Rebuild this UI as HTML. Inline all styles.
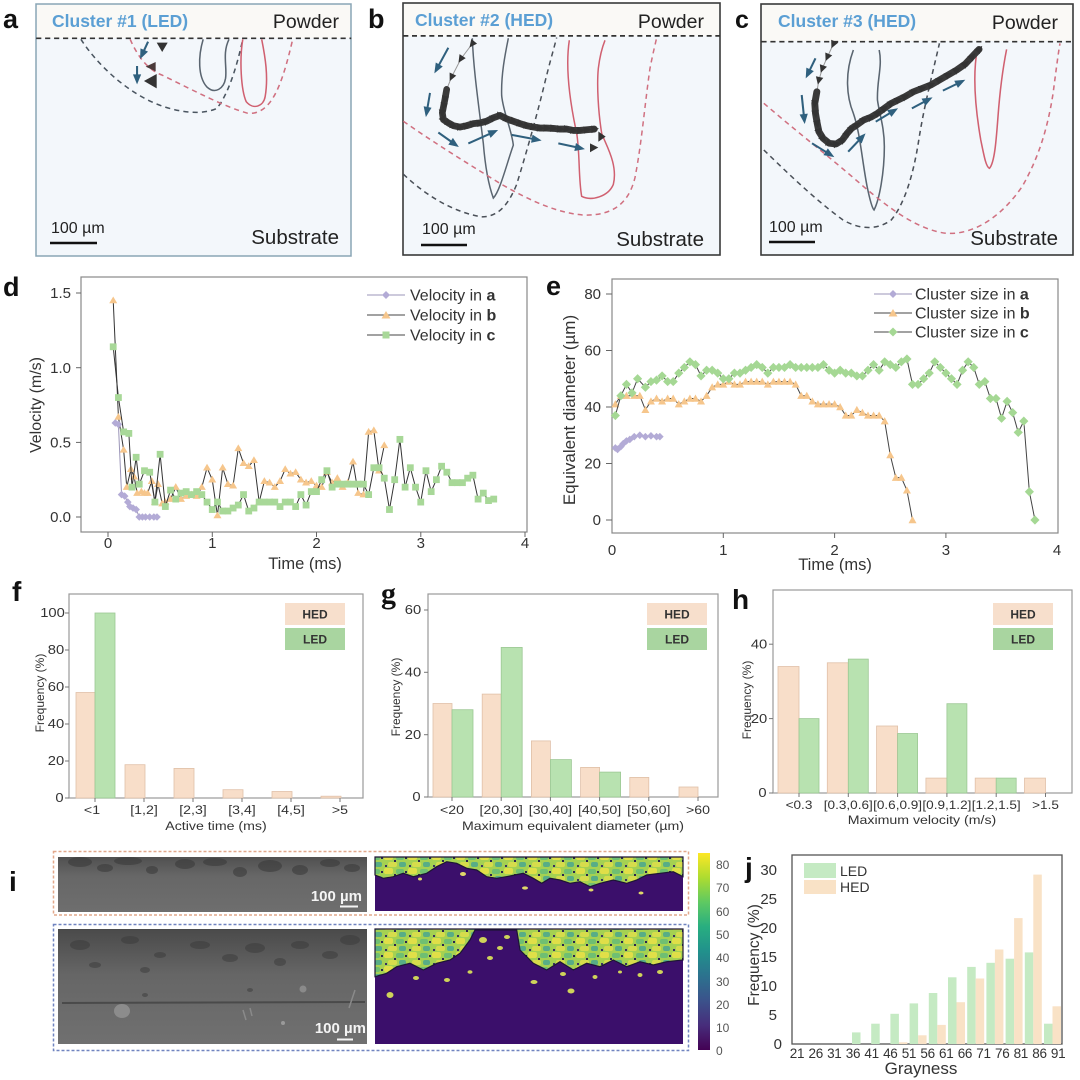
<!DOCTYPE html>
<html><head><meta charset="utf-8"><style>
html,body{margin:0;padding:0;background:#fff;width:1080px;height:1080px;overflow:hidden}
svg{display:block;font-family:"Liberation Sans",Arial,sans-serif}
.sx{transform-box:fill-box;transform-origin:center;transform:scaleX(1.18)}
.ns{vector-effect:non-scaling-stroke}
</style></head><body>
<svg width="1080" height="1080" viewBox="0 0 1080 1080" xmlns="http://www.w3.org/2000/svg">
<defs>
<marker id="arr" markerUnits="userSpaceOnUse" markerWidth="40" markerHeight="40" refX="22" refY="12" orient="auto" overflow="visible"><path d="M0,0 L30,12 L0,24 Z" fill="#2f607e"/></marker>
<marker id="ctri" markerUnits="userSpaceOnUse" markerWidth="30" markerHeight="30" refX="0" refY="0" orient="auto" overflow="visible"><path d="M-9,-11 L14,0 L-9,11 Z" fill="#333"/></marker>
<marker id="mdp" markerUnits="userSpaceOnUse" overflow="visible"><path d="M0,2.55L3.65,0L0,-2.55L-3.65,0Z" fill="#b3abd6"/></marker>
<marker id="mdo" markerUnits="userSpaceOnUse" overflow="visible"><path d="M0,2.68L3.84,-1.87L-3.84,-1.87Z" fill="#f6c68c"/></marker>
<marker id="mdg" markerUnits="userSpaceOnUse" overflow="visible"><path d="M-3.26,-2.28H3.26V2.28H-3.26Z" fill="#a8d898"/></marker>
<marker id="mep" markerUnits="userSpaceOnUse" overflow="visible"><path d="M0,1.35L3.41,0L0,-1.35L-3.41,0Z" fill="#b3abd6"/></marker>
<marker id="meo" markerUnits="userSpaceOnUse" overflow="visible"><path d="M0,1.416L3.59,-1.13L-3.59,-1.13Z" fill="#f6c68c"/></marker>
<marker id="meg" markerUnits="userSpaceOnUse" overflow="visible"><path d="M0,1.63L4.13,0L0,-1.63L-4.13,0Z" fill="#a5d894"/></marker>
<linearGradient id="cbar" x1="0" y1="1" x2="0" y2="0">
<stop offset="0" stop-color="#440154"/><stop offset="0.125" stop-color="#472d7b"/><stop offset="0.25" stop-color="#3b528b"/><stop offset="0.375" stop-color="#2c728e"/><stop offset="0.5" stop-color="#21918c"/><stop offset="0.625" stop-color="#28ae80"/><stop offset="0.75" stop-color="#5ec962"/><stop offset="0.875" stop-color="#addc30"/><stop offset="1" stop-color="#fde725"/>
</linearGradient>
<linearGradient id="g1" x1="0" y1="0" x2="0" y2="1"><stop offset="0" stop-color="#4a4a4a"/><stop offset="0.4" stop-color="#666"/><stop offset="1" stop-color="#707070"/></linearGradient>
<linearGradient id="g2" x1="0" y1="0" x2="0" y2="1"><stop offset="0" stop-color="#505050"/><stop offset="0.35" stop-color="#676767"/><stop offset="1" stop-color="#6e6e6e"/></linearGradient>
<pattern id="vir" patternUnits="userSpaceOnUse" width="24" height="14">
<rect width="24" height="14" fill="#a5d152"/>
<rect x="0" y="0" width="9" height="6" rx="2" fill="#e0df48"/>
<rect x="12" y="1" width="8" height="5" rx="2" fill="#6fbf72"/>
<rect x="4" y="8" width="9" height="5" rx="2" fill="#d6dc4c"/>
<rect x="15" y="8" width="7" height="5" rx="2" fill="#58ad86"/>
<rect x="10" y="6" width="2" height="2" fill="#2a2450"/>
<rect x="21" y="3" width="2" height="2" fill="#2a2450"/>
<rect x="1" y="11" width="2" height="2" fill="#3a3060"/>
</pattern>
</defs>

<!-- ================= PANEL A ================= -->
<rect x="36" y="4" width="315" height="252" fill="#f3f7fb" stroke="#8aa5b5" stroke-width="1.5"/>
<rect x="37" y="5" width="313" height="33" fill="#faf9f6"/>
<g transform="scale(0.34435,0.33333)" fill="none">
<line x1="105" y1="115" x2="1020" y2="115" stroke="#333" stroke-width="5" stroke-dasharray="15,11"/>
<path d="M235,118 C280,190 360,270 450,310 C520,340 590,345 630,325 C665,280 690,190 705,118" stroke="#4a5560" stroke-width="4.5" stroke-dasharray="15,12"/>
<path d="M378,118 C400,170 430,210 470,225 C560,270 650,320 720,340 C790,345 820,250 850,118" stroke="#d07080" stroke-width="4.5" stroke-dasharray="15,12"/>
<path d="M590,118 C575,170 575,230 600,260 C625,285 650,265 655,235 C660,200 645,160 665,118" stroke="#5a6570" stroke-width="4.5"/>
<path d="M705,118 C695,180 700,270 715,305 C735,330 765,320 770,290 C780,230 770,170 760,118" stroke="#d06070" stroke-width="4.5"/>
<line x1="430" y1="125" x2="410" y2="170" stroke="#2f607e" stroke-width="6" marker-end="url(#arr)"/>
<line x1="398" y1="198" x2="398" y2="245" stroke="#2f607e" stroke-width="6" marker-end="url(#arr)"/>
<polygon points="455,128 487,128 471,156" fill="#333"/>
<polygon points="423,200 452,186 452,214" fill="#4a3a3a"/>
<polygon points="418,243 455,222 455,265" fill="#333"/>
</g>
<text x="52" y="27" font-size="17.5" font-weight="bold" fill="#5b9fd4">Cluster #1 (LED)</text>
<text x="339" y="28" font-size="19.5" fill="#222" text-anchor="end">Powder</text>
<text x="51" y="233" font-size="16" fill="#222">100 µm</text>
<line x1="50" y1="243" x2="97" y2="243" stroke="#111" stroke-width="2.5"/>
<text x="339" y="244" font-size="20.5" fill="#222" text-anchor="end">Substrate</text>
<text x="3" y="28" font-size="27" font-weight="bold" fill="#111">a</text>

<!-- ================= PANEL B ================= -->
<rect x="403" y="3" width="317" height="252" fill="#f3f7fb" stroke="#3a3a3a" stroke-width="1.6"/>
<rect x="404" y="4" width="315" height="32" fill="#faf9f6"/>
<g transform="translate(385,0) scale(0.33333,0.3415)" fill="none">
<line x1="55" y1="105" x2="1005" y2="105" stroke="#333" stroke-width="5" stroke-dasharray="15,11"/>
<path d="M262,112 C265,200 280,300 295,420 C300,480 310,540 325,580 C345,560 365,480 385,425 C380,380 355,330 350,280 C348,220 360,160 370,112" stroke="#5a6570" stroke-width="4.5"/>
<path d="M553,118 C540,200 555,300 575,390 C585,450 580,520 590,575 C620,590 670,575 685,540 C700,480 660,420 650,390 C640,330 635,250 640,200 C645,160 655,130 660,118" stroke="#d06070" stroke-width="4.5"/>
<path d="M55,510 C120,570 200,620 290,635 C340,635 370,600 395,540 C420,460 450,360 480,240 C495,180 510,130 515,110" stroke="#4a5058" stroke-width="4.5" stroke-dasharray="15,12"/>
<path d="M55,355 C150,420 250,480 350,540 C440,590 520,625 600,630 C680,630 730,600 750,520 C770,420 780,300 795,200 C805,150 812,125 815,110" stroke="#d07080" stroke-width="4.5" stroke-dasharray="15,12"/>
<polyline points="262,128 228,172 200,225 185,262" stroke="#999" stroke-width="3" marker-start="url(#ctri)" marker-mid="url(#ctri)"/>
<polyline points="185,262 180,290 176,310 172,330 175,350 190,360 205,368 225,372 245,368 265,362 285,360 305,355 325,345 345,338 365,348 385,355 405,362 425,368 445,372 465,375 485,375 505,376 525,378 545,378 565,382 585,382 605,380 628,378" stroke="#3a3a3a" stroke-width="20" stroke-linejoin="round" stroke-linecap="round" marker-mid="url(#ctri)" marker-end="url(#ctri)"/>
<polygon points="640,385 662,400 640,415" fill="#333"/>
<polygon points="615,420 640,432 615,446" fill="#333"/>
<line x1="190" y1="140" x2="152" y2="208" stroke="#2f607e" stroke-width="6" marker-end="url(#arr)"/>
<line x1="135" y1="272" x2="124" y2="335" stroke="#2f607e" stroke-width="6" marker-end="url(#arr)"/>
<line x1="160" y1="388" x2="215" y2="426" stroke="#2f607e" stroke-width="6" marker-end="url(#arr)"/>
<line x1="250" y1="420" x2="332" y2="384" stroke="#2f607e" stroke-width="6" marker-end="url(#arr)"/>
<line x1="380" y1="395" x2="462" y2="410" stroke="#2f607e" stroke-width="6" marker-end="url(#arr)"/>
<line x1="520" y1="420" x2="592" y2="435" stroke="#2f607e" stroke-width="6" marker-end="url(#arr)"/>
</g>
<text x="415" y="26" font-size="17.5" font-weight="bold" fill="#5b9fd4">Cluster #2 (HED)</text>
<text x="704" y="28" font-size="19.5" fill="#222" text-anchor="end">Powder</text>
<text x="422" y="234" font-size="16" fill="#222">100 µm</text>
<line x1="421" y1="245" x2="467" y2="245" stroke="#111" stroke-width="2.5"/>
<text x="704" y="246" font-size="20.5" fill="#222" text-anchor="end">Substrate</text>
<text x="368" y="28" font-size="27" font-weight="bold" fill="#111">b</text>

<!-- ================= PANEL C ================= -->
<rect x="761" y="4" width="312" height="251" fill="#f3f7fb" stroke="#3a3a3a" stroke-width="1.6"/>
<rect x="762" y="5" width="310" height="36" fill="#faf9f6"/>
<g transform="translate(540,0) scale(0.34435,0.33333)" fill="none">
<line x1="643" y1="125" x2="1550" y2="125" stroke="#333" stroke-width="5" stroke-dasharray="15,11"/>
<path d="M910,150 C885,220 890,290 910,340 C930,400 935,480 950,560 C958,600 965,625 970,630 C985,600 1000,520 1000,440 C1000,380 985,340 980,300 C978,240 995,200 985,150" stroke="#5a6570" stroke-width="4.5"/>
<path d="M1270,148 C1255,230 1265,330 1280,420 C1290,470 1295,500 1305,505 C1320,490 1325,420 1330,350 C1335,280 1345,200 1355,148" stroke="#d06070" stroke-width="4.5"/>
<path d="M650,450 C720,520 800,600 880,660 C930,690 980,690 1020,660 C1060,610 1085,520 1100,420 C1115,320 1140,220 1160,130" stroke="#4a5058" stroke-width="4.5" stroke-dasharray="15,12"/>
<path d="M650,310 C740,390 840,470 940,560 C1020,630 1100,690 1180,700 C1260,705 1340,650 1400,560 C1450,470 1475,380 1490,280 C1500,200 1505,160 1510,130" stroke="#d07080" stroke-width="4.5" stroke-dasharray="15,12"/>
<polyline points="852,132 835,170 820,205 810,240 804,275" stroke="#999" stroke-width="3" marker-start="url(#ctri)" marker-mid="url(#ctri)"/>
<polyline points="804,275 798,310 800,340 805,370 810,395 822,415 840,430 860,432 878,420 892,400 905,385 920,375 940,360 960,352 980,340 1000,325 1020,310 1040,300 1060,290 1085,275 1110,265 1135,255 1160,240 1185,225 1210,210 1235,192 1255,170 1275,148" stroke="#3a3a3a" stroke-width="20" stroke-linejoin="round" stroke-linecap="round" marker-mid="url(#ctri)" marker-end="url(#ctri)"/>
<line x1="800" y1="175" x2="775" y2="228" stroke="#2f607e" stroke-width="6" marker-end="url(#arr)"/>
<line x1="760" y1="285" x2="768" y2="364" stroke="#2f607e" stroke-width="6" marker-end="url(#arr)"/>
<line x1="790" y1="430" x2="848" y2="467" stroke="#2f607e" stroke-width="6" marker-end="url(#arr)"/>
<line x1="895" y1="455" x2="940" y2="406" stroke="#2f607e" stroke-width="6" marker-end="url(#arr)"/>
<line x1="975" y1="365" x2="1033" y2="329" stroke="#2f607e" stroke-width="6" marker-end="url(#arr)"/>
<line x1="1080" y1="325" x2="1133" y2="296" stroke="#2f607e" stroke-width="6" marker-end="url(#arr)"/>
<line x1="1170" y1="272" x2="1228" y2="243" stroke="#2f607e" stroke-width="6" marker-end="url(#arr)"/>
</g>
<text x="778" y="27" font-size="17.5" font-weight="bold" fill="#5b9fd4">Cluster #3 (HED)</text>
<text x="1058" y="29" font-size="19.5" fill="#222" text-anchor="end">Powder</text>
<text x="769" y="232" font-size="16" fill="#222">100 µm</text>
<line x1="769" y1="242" x2="815" y2="242" stroke="#111" stroke-width="2.5"/>
<text x="1058" y="245" font-size="20.5" fill="#222" text-anchor="end">Substrate</text>
<text x="735" y="28" font-size="25" font-weight="bold" fill="#111">c</text>

<!-- ================= PANEL D ================= -->
<rect x="81" y="277" width="446" height="255" fill="#fff" stroke="#888" stroke-width="1.2"/>
<g stroke="#666" stroke-width="1">
<line x1="76" y1="293" x2="81" y2="293"/><line x1="76" y1="367.7" x2="81" y2="367.7"/><line x1="76" y1="442.4" x2="81" y2="442.4"/><line x1="76" y1="517" x2="81" y2="517"/>
<line x1="108" y1="532" x2="108" y2="537"/><line x1="212.3" y1="532" x2="212.3" y2="537"/><line x1="316.5" y1="532" x2="316.5" y2="537"/><line x1="420.8" y1="532" x2="420.8" y2="537"/><line x1="525" y1="532" x2="525" y2="537"/>
</g>
<g font-size="15" fill="#333" text-anchor="end">
<text x="71" y="298">1.5</text><text x="71" y="373">1.0</text><text x="71" y="447.5">0.5</text><text x="71" y="522">0.0</text>
</g>
<g font-size="15" fill="#333" text-anchor="middle">
<text x="108" y="548">0</text><text x="212.3" y="548">1</text><text x="316.5" y="548">2</text><text x="420.8" y="548">3</text><text x="525" y="548">4</text>
</g>
<text x="305" y="569" font-size="16.5" fill="#333" text-anchor="middle">Time (ms)</text>
<text transform="translate(41,405) rotate(-90)" font-size="16" fill="#333" text-anchor="middle">Velocity (m/s)</text>
<text x="3" y="296" font-size="27" font-weight="bold" fill="#111">d</text>
<g transform="translate(108,517) scale(1.0425,-1.493)" fill="none" stroke="#333" stroke-width="1">
<polyline class="ns" points="5,145 10,67 15,45 18,20 22,32 25,27 28,16 32,17 35,16 38,16 42,24 45,10 48,22 52,9 55,10 60,12 65,20 70,12 75,14 80,15 85,14 90,20 95,33 100,25 105,1 110,33 115,22 120,21 125,46 130,36 135,34 140,38 145,10 150,24 155,23 160,20 165,24 170,32 175,29 180,30 185,25 190,23 195,24 200,21 205,20 210,30 215,23 220,26 225,20 230,23 235,37 240,16 245,15 250,57 255,58 260,31 265,48" marker-start="url(#mdo)" marker-mid="url(#mdo)" marker-end="url(#mdo)"/>
<polyline class="ns" points="5,114 10,80 15,57 20,56 23,20 27,40 30,22 35,31 40,30 45,10 50,42 55,7 60,18 65,12 70,16 75,17 80,15 85,17 90,15 95,10 100,5 105,10 110,4 115,4 120,6 125,8 130,15 135,4 140,6 145,10 150,10 155,10 160,10 165,7 170,10 175,10 180,7 185,15 190,8 195,17 200,17 205,25 210,31 215,20 220,22 225,22 230,22 235,22 240,22 245,22 250,15 255,33 260,33 265,26 270,5 275,25 280,52 285,20 290,33 295,20 300,10 305,31 310,17 315,25 320,34 325,30 330,23 335,23 340,23 345,26 350,28 355,12 360,16 365,11 370,12" marker-start="url(#mdg)" marker-mid="url(#mdg)" marker-end="url(#mdg)"/>
<polyline class="ns" stroke="#9b95b8" points="7,63 10,62 13,15 16,14 19,10 21,7 24,6 27,5 30,0 33,0 36,0 40,0 44,0 47,0" marker-start="url(#mdp)" marker-mid="url(#mdp)" marker-end="url(#mdp)"/>
</g>
<g font-size="16" fill="#333">
<line x1="367" y1="295" x2="405" y2="295" stroke="#9b95b8"/><polygon points="386,291 390,295 386,299 382,295" fill="#b3abd6"/>
<text x="410" y="300.5">Velocity in <tspan font-weight="bold">a</tspan></text>
<line x1="367" y1="315" x2="405" y2="315" stroke="#444"/><polygon points="386,311 390.5,318.5 381.5,318.5" fill="#f6c68c"/>
<text x="410" y="320.5">Velocity in <tspan font-weight="bold">b</tspan></text>
<line x1="367" y1="335" x2="405" y2="335" stroke="#444"/><rect x="382.5" y="331.5" width="7" height="7" fill="#a8d898"/>
<text x="410" y="340.5">Velocity in <tspan font-weight="bold">c</tspan></text>
</g>

<!-- ================= PANEL E ================= -->
<rect x="612" y="279" width="446" height="254" fill="#fff" stroke="#888" stroke-width="1.2"/>
<g stroke="#666" stroke-width="1">
<line x1="606" y1="294" x2="612" y2="294"/><line x1="606" y1="350.5" x2="612" y2="350.5"/><line x1="606" y1="407" x2="612" y2="407"/><line x1="606" y1="463.5" x2="612" y2="463.5"/><line x1="606" y1="520" x2="612" y2="520"/>
<line x1="723.3" y1="533" x2="723.3" y2="538"/><line x1="834.6" y1="533" x2="834.6" y2="538"/><line x1="945.9" y1="533" x2="945.9" y2="538"/>
</g>
<g font-size="15" fill="#333" text-anchor="end">
<text x="601" y="299">80</text><text x="601" y="355.5">60</text><text x="601" y="412">40</text><text x="601" y="468.5">20</text><text x="601" y="525">0</text>
</g>
<g font-size="15" fill="#333" text-anchor="middle">
<text x="612" y="555">0</text><text x="723.3" y="555">1</text><text x="834.6" y="555">2</text><text x="945.9" y="555">3</text><text x="1057" y="555">4</text>
</g>
<text x="835" y="570" font-size="16.5" fill="#333" text-anchor="middle">Time (ms)</text>
<text transform="translate(575,410) rotate(-90)" font-size="17" fill="#333" text-anchor="middle">Equivalent diameter (µm)</text>
<text x="546" y="295" font-size="27" font-weight="bold" fill="#111">e</text>
<g transform="translate(612,520) scale(1.113,-2.825)" fill="none" stroke="#444" stroke-width="1">
<polyline class="ns" points="3,41 8,44 13,44 20,44 25,44 30,39 35,42 40,43 45,42 50,43 55,43 60,41 65,42 70,43 75,43 80,42 85,44 90,47 95,48 100,48 105,49 110,48 115,48 120,49 125,49 130,49 135,49 140,48 145,49 150,49 155,49 160,49 165,48 170,44 175,44 180,42 185,41 190,41 195,41 200,41 205,40 210,37 215,37 220,39 225,38 230,37 235,37 240,37 245,35 250,23 255,15 260,15 265,10.5 270,0" marker-start="url(#meo)" marker-mid="url(#meo)" marker-end="url(#meo)"/>
<polyline class="ns" points="3,37 8,44 13,48 18,45 23,50 30,47 35,49 40,49.5 45,51 50,49 55,49 60,52 65,54 70,56 75,55 80,51 85,53 90,53 95,52 100,50 105,50 110,52 115,52 120,53 125,54 130,55 135,54 140,52 145,54 150,54 155,54 160,55 165,54 170,54 175,54 180,54 185,54 190,55 195,53 200,52 205,53 210,52 215,52 220,51 225,51 230,53 235,55 240,53 245,56 250,55 255,54 260,56 265,57 270,48 275,48 280,50 285,52 290,56 295,54 300,52 305,50 310,48 315,53 320,56 325,54 330,48 335,49 340,43 345,43 350,36 355,42 360,38 365,31 370,35 375,10 380,0" marker-start="url(#meg)" marker-mid="url(#meg)" marker-end="url(#meg)"/>
<polyline class="ns" stroke="#9b95b8" points="3,25.5 5,25 8,26 10,27 13,28 16,28.5 20,29.5 25,30 30,29.5 35,29.8 40,29.5 43,29.5" marker-start="url(#mep)" marker-mid="url(#mep)" marker-end="url(#mep)"/>
</g>
<g font-size="16" fill="#333">
<line x1="874" y1="294" x2="912" y2="294" stroke="#9b95b8"/><polygon points="893,290 897,294 893,298 889,294" fill="#b3abd6"/>
<text x="915" y="299.5">Cluster size in <tspan font-weight="bold">a</tspan></text>
<line x1="874" y1="313" x2="912" y2="313" stroke="#444"/><polygon points="893,309 897.5,316.5 888.5,316.5" fill="#f6c68c"/>
<text x="915" y="318.5">Cluster size in <tspan font-weight="bold">b</tspan></text>
<line x1="874" y1="332" x2="912" y2="332" stroke="#444"/><polygon points="893,327.5 897.5,332 893,336.5 888.5,332" fill="#a5d894"/>
<text x="915" y="337.5">Cluster size in <tspan font-weight="bold">c</tspan></text>
</g>

<!-- ================= PANEL F ================= -->
<rect x="69" y="594" width="294" height="204" fill="#fff" stroke="#999" stroke-width="1.2"/>
<g fill="#f8dec9" stroke="#e0c0a8" stroke-width="0.8">
<rect x="76" y="692.5" width="19" height="105.5"/><rect x="125" y="764.7" width="20" height="33.3"/><rect x="174" y="768.4" width="20" height="29.6"/><rect x="223" y="789.7" width="20" height="8.3"/><rect x="272" y="791.5" width="20" height="6.5"/><rect x="321" y="796.2" width="20" height="1.8"/>
</g>
<rect x="95" y="613" width="20" height="185" fill="#b8e2b0" stroke="#9cc894" stroke-width="0.8"/>
<g stroke="#777" stroke-width="1">
<line x1="65" y1="613" x2="69" y2="613"/><line x1="65" y1="650" x2="69" y2="650"/><line x1="65" y1="687" x2="69" y2="687"/><line x1="65" y1="724" x2="69" y2="724"/><line x1="65" y1="761" x2="69" y2="761"/><line x1="65" y1="798" x2="69" y2="798"/>
<line x1="95" y1="798" x2="95" y2="802"/><line x1="144" y1="798" x2="144" y2="802"/><line x1="193" y1="798" x2="193" y2="802"/><line x1="242" y1="798" x2="242" y2="802"/><line x1="291" y1="798" x2="291" y2="802"/><line x1="340" y1="798" x2="340" y2="802"/>
</g>
<g font-size="12.5" fill="#333" text-anchor="end">
<text class="sx" x="63" y="617">100</text><text class="sx" x="63" y="654">80</text><text class="sx" x="63" y="691">60</text><text class="sx" x="63" y="728">40</text><text class="sx" x="63" y="765">20</text><text class="sx" x="63" y="802">0</text>
</g>
<g font-size="12" fill="#333" text-anchor="middle">
<text class="sx" x="92" y="814">&lt;1</text><text class="sx" x="144" y="814">[1,2]</text><text class="sx" x="193" y="814">[2,3]</text><text class="sx" x="242" y="814">[3,4]</text><text class="sx" x="291" y="814">[4,5]</text><text class="sx" x="340" y="814">&gt;5</text>
<text class="sx" x="216" y="830">Active time (ms)</text>
</g>
<text transform="translate(44,693) rotate(-90)" font-size="12" fill="#333" text-anchor="middle">Frequency (%)</text>
<text x="12" y="601" font-size="28" font-weight="bold" fill="#111">f</text>
<rect x="285" y="603" width="60" height="22" fill="#f7dfcc"/><text x="315" y="618.5" font-size="12" font-weight="bold" fill="#333" text-anchor="middle">HED</text>
<rect x="285" y="628" width="60" height="22" fill="#a9d5a0"/><text x="315" y="643.5" font-size="12" font-weight="bold" fill="#333" text-anchor="middle">LED</text>

<!-- ================= PANEL G ================= -->
<rect x="428" y="594" width="290" height="203" fill="#fff" stroke="#999" stroke-width="1.2"/>
<g fill="#f8dec9" stroke="#e0c0a8" stroke-width="0.8">
<rect x="433" y="703.5" width="19" height="93.5"/><rect x="482.2" y="694.1" width="19" height="102.9"/><rect x="531.4" y="740.9" width="19" height="56.1"/><rect x="580.6" y="767.4" width="19" height="29.6"/><rect x="629.8" y="777.4" width="19" height="19.6"/><rect x="679" y="787" width="19" height="10"/>
</g>
<g fill="#b8e2b0" stroke="#9cc894" stroke-width="0.8">
<rect x="452" y="709.7" width="21" height="87.3"/><rect x="501.2" y="647.4" width="21" height="149.6"/><rect x="550.4" y="759.6" width="21" height="37.4"/><rect x="599.6" y="772.1" width="21" height="24.9"/>
</g>
<g stroke="#777" stroke-width="1">
<line x1="424" y1="610" x2="428" y2="610"/><line x1="424" y1="672.3" x2="428" y2="672.3"/><line x1="424" y1="734.7" x2="428" y2="734.7"/><line x1="424" y1="797" x2="428" y2="797"/>
<line x1="452" y1="797" x2="452" y2="801"/><line x1="501.2" y1="797" x2="501.2" y2="801"/><line x1="550.4" y1="797" x2="550.4" y2="801"/><line x1="599.6" y1="797" x2="599.6" y2="801"/><line x1="648.8" y1="797" x2="648.8" y2="801"/><line x1="698" y1="797" x2="698" y2="801"/>
</g>
<g font-size="12.5" fill="#333" text-anchor="end">
<text class="sx" x="420" y="614">60</text><text class="sx" x="420" y="676.5">40</text><text class="sx" x="420" y="739">20</text><text class="sx" x="420" y="801">0</text>
</g>
<g font-size="12" fill="#333" text-anchor="middle">
<text class="sx" x="452" y="814">&lt;20</text><text class="sx" x="501.2" y="814">[20,30]</text><text class="sx" x="550.4" y="814">[30,40]</text><text class="sx" x="599.6" y="814">[40,50]</text><text class="sx" x="648.8" y="814">[50,60]</text><text class="sx" x="698" y="814">&gt;60</text>
<text class="sx" x="573" y="830">Maximum equivalent diameter (µm)</text>
</g>
<text transform="translate(400,697) rotate(-90)" font-size="12" fill="#333" text-anchor="middle">Frequency (%)</text>
<text x="381" y="603" font-size="30" font-weight="bold" fill="#111" font-family="Liberation Serif, serif">g</text>
<rect x="647" y="603" width="60" height="22" fill="#f7dfcc"/><text x="677" y="618.5" font-size="12" font-weight="bold" fill="#333" text-anchor="middle">HED</text>
<rect x="647" y="628" width="60" height="22" fill="#a9d5a0"/><text x="677" y="643.5" font-size="12" font-weight="bold" fill="#333" text-anchor="middle">LED</text>

<!-- ================= PANEL H ================= -->
<rect x="773" y="590" width="299" height="203" fill="#fff" stroke="#999" stroke-width="1.2"/>
<g fill="#f8dec9" stroke="#e0c0a8" stroke-width="0.8">
<rect x="778" y="666.5" width="21" height="126.5"/><rect x="827.3" y="662.8" width="21" height="130.2"/><rect x="876.6" y="726" width="21" height="67"/><rect x="925.9" y="778.1" width="21" height="14.9"/><rect x="975.2" y="778.1" width="21" height="14.9"/><rect x="1024.5" y="778.1" width="21" height="14.9"/>
</g>
<g fill="#b8e2b0" stroke="#9cc894" stroke-width="0.8">
<rect x="799" y="718.6" width="20" height="74.4"/><rect x="848.3" y="659.1" width="20" height="133.9"/><rect x="897.6" y="733.5" width="20" height="59.5"/><rect x="946.9" y="703.7" width="20" height="89.3"/><rect x="996.2" y="778.1" width="20" height="14.9"/>
</g>
<g stroke="#777" stroke-width="1">
<line x1="769" y1="644.2" x2="773" y2="644.2"/><line x1="769" y1="718.6" x2="773" y2="718.6"/><line x1="769" y1="793" x2="773" y2="793"/>
<line x1="799" y1="793" x2="799" y2="797"/><line x1="848.3" y1="793" x2="848.3" y2="797"/><line x1="897.6" y1="793" x2="897.6" y2="797"/><line x1="946.9" y1="793" x2="946.9" y2="797"/><line x1="996.2" y1="793" x2="996.2" y2="797"/><line x1="1045.5" y1="793" x2="1045.5" y2="797"/>
</g>
<g font-size="12.5" fill="#333" text-anchor="end">
<text class="sx" x="766" y="648.5">40</text><text class="sx" x="766" y="723">20</text><text class="sx" x="766" y="797">0</text>
</g>
<g font-size="11.5" fill="#333" text-anchor="middle">
<text class="sx" x="799" y="809">&lt;0.3</text><text class="sx" x="848.3" y="809">[0.3,0.6]</text><text class="sx" x="897.6" y="809">[0.6,0.9]</text><text class="sx" x="946.9" y="809">[0.9,1.2]</text><text class="sx" x="996.2" y="809">[1.2,1.5]</text><text class="sx" x="1045.5" y="809">&gt;1.5</text>
<text class="sx" x="922" y="824" font-size="12">Maximum velocity (m/s)</text>
</g>
<text transform="translate(751,700) rotate(-90)" font-size="12" fill="#333" text-anchor="middle">Frequency (%)</text>
<text x="732" y="609" font-size="28" font-weight="bold" fill="#111">h</text>
<rect x="993" y="603" width="60" height="22" fill="#f7dfcc"/><text x="1023" y="618.5" font-size="12" font-weight="bold" fill="#333" text-anchor="middle">HED</text>
<rect x="993" y="628" width="60" height="22" fill="#a9d5a0"/><text x="1023" y="643.5" font-size="12" font-weight="bold" fill="#333" text-anchor="middle">LED</text>

<!-- ================= PANEL I ================= -->
<text x="9" y="891" font-size="28" font-weight="bold" fill="#111">i</text>
<rect x="53.5" y="851.5" width="635" height="63.5" fill="none" stroke="#e2a88c" stroke-width="1.5" stroke-dasharray="3,2"/>
<rect x="53.5" y="924.5" width="635" height="126" fill="none" stroke="#7084c0" stroke-width="1.5" stroke-dasharray="3,2"/>
<!-- gray top -->
<rect x="58" y="857" width="309" height="55" fill="url(#g2)"/>
<g fill="#383838" opacity="0.55">
<ellipse cx="80" cy="862" rx="12" ry="5"/><ellipse cx="105" cy="868" rx="8" ry="4"/><ellipse cx="128" cy="861" rx="14" ry="4"/><ellipse cx="152" cy="870" rx="6" ry="4"/><ellipse cx="185" cy="864" rx="10" ry="5"/><ellipse cx="215" cy="862" rx="12" ry="4"/><ellipse cx="240" cy="872" rx="7" ry="5"/><ellipse cx="270" cy="866" rx="12" ry="6"/><ellipse cx="300" cy="870" rx="8" ry="5"/><ellipse cx="330" cy="863" rx="10" ry="4"/><ellipse cx="352" cy="868" rx="8" ry="4"/>
</g>
<text x="362" y="901" font-size="15" font-weight="bold" fill="#f4f4f4" text-anchor="end">100 µm</text>
<line x1="340" y1="906.5" x2="358" y2="906.5" stroke="#f4f4f4" stroke-width="2"/>
<!-- gray bottom -->
<rect x="58" y="929" width="309" height="115" fill="url(#g1)"/>
<g fill="#3a3a3a" opacity="0.5">
<ellipse cx="80" cy="945" rx="10" ry="5"/><ellipse cx="95" cy="965" rx="6" ry="3"/><ellipse cx="130" cy="940" rx="9" ry="4"/><ellipse cx="160" cy="955" rx="6" ry="3"/><ellipse cx="200" cy="945" rx="10" ry="4"/><ellipse cx="230" cy="958" rx="8" ry="4"/><ellipse cx="255" cy="948" rx="10" ry="5"/><ellipse cx="280" cy="962" rx="6" ry="4"/><ellipse cx="300" cy="945" rx="9" ry="4"/><ellipse cx="330" cy="955" rx="8" ry="4"/><ellipse cx="350" cy="940" rx="10" ry="5"/><ellipse cx="145" cy="970" rx="5" ry="3"/><ellipse cx="250" cy="990" rx="3" ry="2"/><ellipse cx="145" cy="995" rx="3" ry="2"/>
</g>
<line x1="62" y1="1003" x2="365" y2="1002" stroke="#4a4a4a" stroke-width="2"/>
<ellipse cx="122" cy="1011" rx="8" ry="7" fill="#8c8c8c"/>
<circle cx="303" cy="989" r="3.5" fill="#8a8a8a"/><circle cx="283" cy="1023" r="2" fill="#9a9a9a"/>
<path d="M243,1010 l3,10 M250,1008 l2,8" stroke="#8a8a8a" stroke-width="1.5"/>
<path d="M355,990 l-6,18" stroke="#8a8a8a" stroke-width="1.5"/>
<text x="366" y="1033" font-size="15" font-weight="bold" fill="#f4f4f4" text-anchor="end">100 µm</text>
<line x1="337" y1="1039.5" x2="353" y2="1039.5" stroke="#f4f4f4" stroke-width="2"/>
<!-- colormap top -->
<rect x="375" y="857" width="308" height="54" fill="#3b0f6b"/>
<polygon points="375,857 683,857 683,876.7 673.3,871.7 660,873.3 646.7,875 636.7,880 626.7,883.3 613.3,880 600,883.3 590,886.7 580,881.7 570,883.3 560,880 550,878.3 541.7,883.3 533.3,878.3 523.3,873.3 510,876 496.7,878.3 486.7,876.7 476.7,870 466.7,868.3 456.7,863.3 446.7,861.7 436.7,866.7 426.7,873.3 413.3,876.7 403.3,873.3 393.3,876.7 383.3,878.3 375,875" fill="url(#vir)" stroke="#1d1535" stroke-width="1.2"/>
<g fill="#e0d86a"><ellipse cx="525" cy="888" rx="3" ry="1.6"/><ellipse cx="591" cy="890" rx="2.5" ry="1.5"/><ellipse cx="641" cy="893" rx="2.5" ry="1.5"/><ellipse cx="463" cy="874" rx="3" ry="2"/><ellipse cx="420" cy="879" rx="2" ry="1.5"/></g>
<!-- colormap bottom -->
<rect x="375" y="929" width="308" height="115" fill="#3b0f6b"/>
<polygon points="375,929 683,929 683,960 666.7,961.7 653.3,965 640,961.7 626.7,966.7 613.3,960 600,966.7 586.7,963.3 573.3,970 560,961.7 546.7,970 533.3,963.3 520,950 516.7,930 475,930 470,940 460,953.3 450,960 436.7,963.3 423.3,970 410,963.3 396.7,966.7 386.7,973.3 375,976.7" fill="url(#vir)" stroke="#1d1535" stroke-width="1.2"/>
<g fill="#cfd35a">
<ellipse cx="483" cy="940" rx="4" ry="3"/><ellipse cx="500" cy="948" rx="3" ry="2"/><ellipse cx="490" cy="958" rx="3" ry="2"/><ellipse cx="507" cy="937" rx="3" ry="2"/>
<ellipse cx="390" cy="995" rx="3.5" ry="3"/><ellipse cx="416" cy="978" rx="3" ry="2"/><ellipse cx="447" cy="980" rx="3" ry="2"/><ellipse cx="534" cy="982" rx="3.5" ry="2"/><ellipse cx="571" cy="991" rx="3.5" ry="2.5"/><ellipse cx="563" cy="974" rx="3" ry="2"/><ellipse cx="595" cy="977" rx="2.5" ry="2"/><ellipse cx="640" cy="975" rx="2.5" ry="2"/><ellipse cx="660" cy="972" rx="3" ry="2"/><ellipse cx="470" cy="972" rx="2.5" ry="1.8"/><ellipse cx="620" cy="972" rx="2" ry="1.5"/>
</g>
<!-- colorbar -->
<rect x="698" y="853" width="12" height="197" fill="url(#cbar)"/>
<g font-size="12" fill="#555">
<text x="716" y="869">80</text><text x="716" y="892">70</text><text x="716" y="916">60</text><text x="716" y="939">50</text><text x="716" y="962">40</text><text x="716" y="986">30</text><text x="716" y="1009">20</text><text x="716" y="1032">10</text><text x="716" y="1055">0</text>
</g>

<!-- ================= PANEL J ================= -->
<rect x="792" y="855" width="270" height="189" fill="#fff" stroke="#555" stroke-width="1.3"/>
<g fill="#c5eac3">
<rect x="852" y="1032.4" width="8.5" height="11.6"/><rect x="871.2" y="1023.7" width="8.5" height="20.3"/><rect x="890.4" y="1013.8" width="8.5" height="30.2"/><rect x="909.6" y="1003.4" width="8.5" height="40.6"/><rect x="928.8" y="993" width="8.5" height="51"/><rect x="948" y="977.3" width="8.5" height="66.7"/><rect x="967.2" y="966.9" width="8.5" height="77.1"/><rect x="986.4" y="962.8" width="8.5" height="81.2"/><rect x="1005.6" y="958.7" width="8.5" height="85.3"/><rect x="1024.8" y="952.4" width="8.5" height="91.6"/><rect x="1044" y="1023.7" width="8.5" height="20.3"/>
</g>
<g fill="#f9e2c6">
<rect x="898.9" y="1042.3" width="8.5" height="1.7"/><rect x="918.1" y="1035.3" width="8.5" height="8.7"/><rect x="937.3" y="1024.9" width="8.5" height="19.1"/><rect x="956.5" y="1002.2" width="8.5" height="41.8"/><rect x="975.7" y="978.5" width="8.5" height="65.5"/><rect x="994.9" y="949.5" width="8.5" height="94.5"/><rect x="1014.1" y="918.1" width="8.5" height="125.9"/><rect x="1033.3" y="874.6" width="8.5" height="169.4"/><rect x="1052.5" y="1006.3" width="8.5" height="37.7"/>
</g>
<g font-size="15" fill="#333" text-anchor="end">
<text x="777" y="875">30</text><text x="777" y="904">25</text><text x="777" y="933">20</text><text x="777" y="962">15</text><text x="777" y="991">10</text><text x="777" y="1020">5</text><text x="782" y="1049">0</text>
</g>
<g font-size="13.5" fill="#333" text-anchor="middle" letter-spacing="-0.3">
<text x="797" y="1058">21</text><text x="815.7" y="1058">26</text><text x="834.3" y="1058">31</text><text x="853" y="1058">36</text><text x="871.6" y="1058">41</text><text x="890.3" y="1058">46</text><text x="908.9" y="1058">51</text><text x="927.6" y="1058">56</text><text x="946.2" y="1058">61</text><text x="964.9" y="1058">66</text><text x="983.5" y="1058">71</text><text x="1002.2" y="1058">76</text><text x="1020.8" y="1058">81</text><text x="1039.5" y="1058">86</text><text x="1058.1" y="1058">91</text>
</g>
<text x="921" y="1074" font-size="17" fill="#333" text-anchor="middle">Grayness</text>
<text transform="translate(759,955) rotate(-90)" font-size="15.5" fill="#333" text-anchor="middle">Frequency (%)</text>
<text x="745" y="877" font-size="28" font-weight="bold" fill="#111">j</text>
<rect x="804" y="863" width="32" height="15" fill="#c5eac3"/><text x="840" y="876" font-size="14" fill="#333">LED</text>
<rect x="804" y="880" width="32" height="14" fill="#f9e2c6"/><text x="840" y="892" font-size="14" fill="#333">HED</text>
</svg>
</body></html>
